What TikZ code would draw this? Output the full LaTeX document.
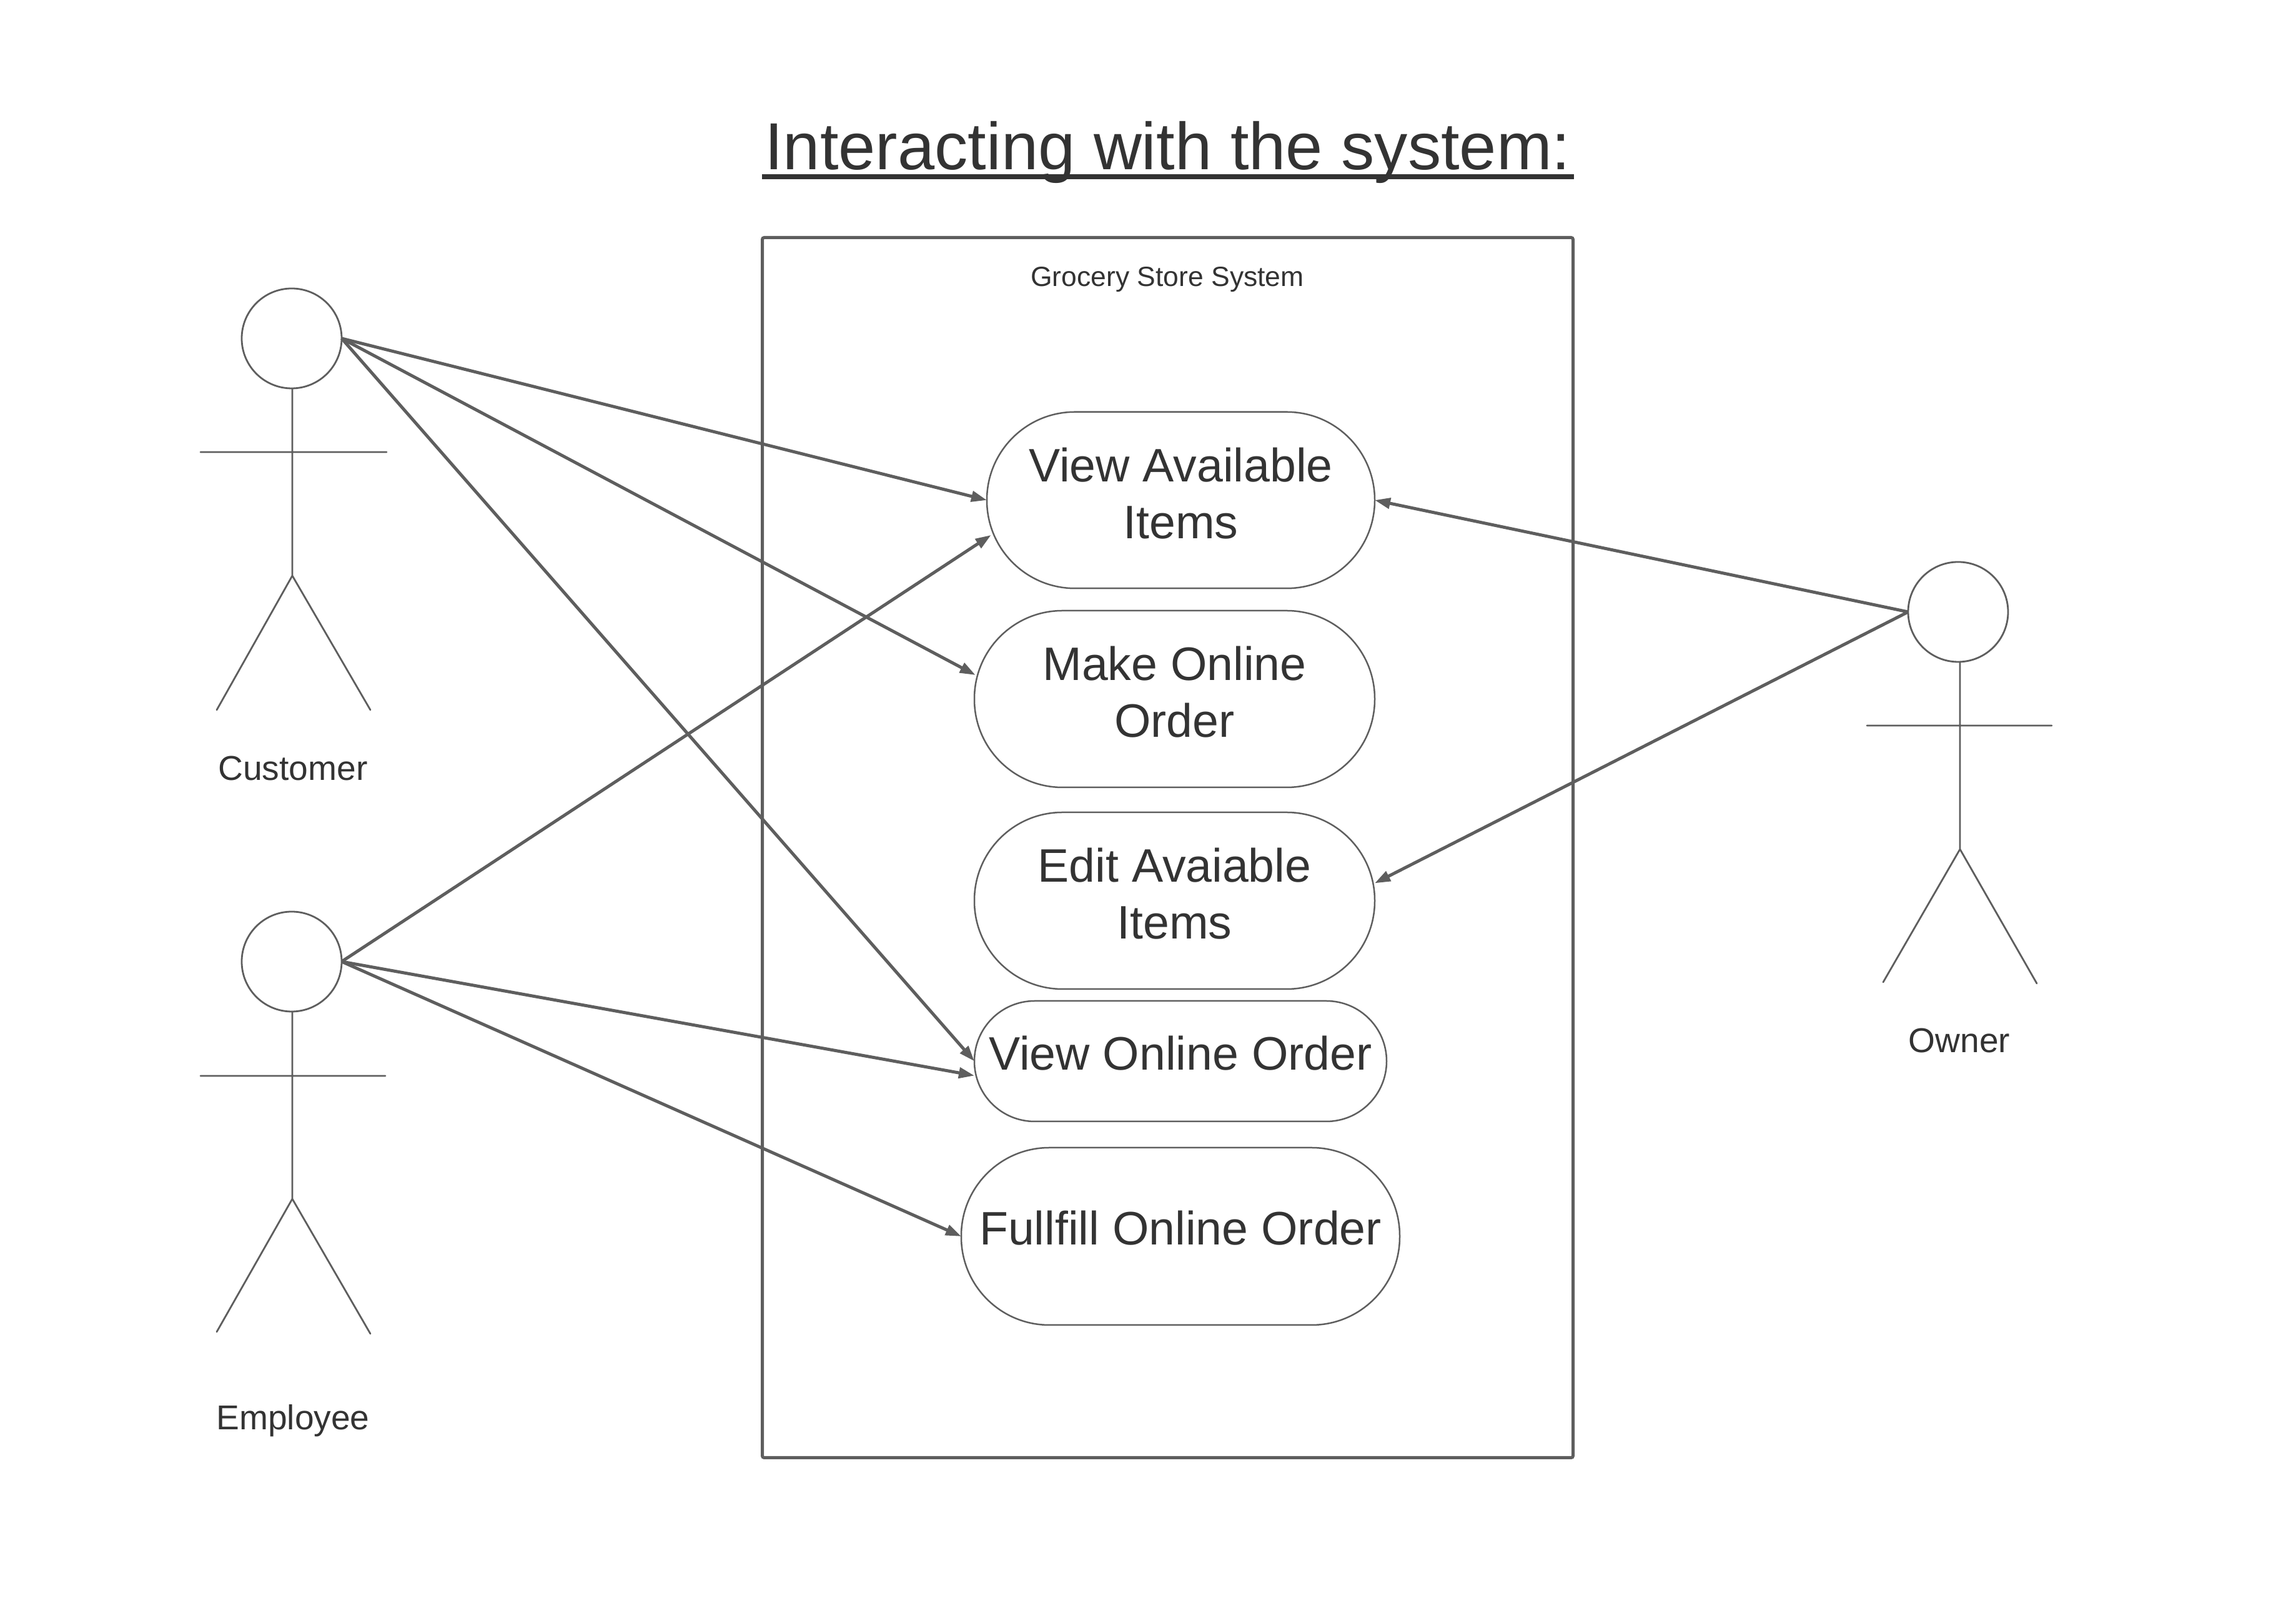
\documentclass[tikz,border=0pt]{standalone}
\usepackage{fontspec}
\setmainfont{Liberation Sans}
\usetikzlibrary{arrows.meta}
\definecolor{linegray}{RGB}{94,94,94}
\definecolor{textgray}{RGB}{51,51,51}
\tikzset{
    usecase/.style={draw=linegray, line width=0.025cm, rounded corners=1.41cm, minimum width=6.41cm, minimum height=2.83cm, align=center, inner sep=0pt, outer sep=0pt, text=textgray, font=\fontsize{21.4}{26}\selectfont},
    actorhead/.style={draw=linegray, line width=0.028cm, circle, minimum size=1.6cm, inner sep=0pt, outer sep=0pt},
    actorline/.style={draw=linegray, line width=0.028cm, line cap=round},
    actorname/.style={text=textgray, font=\fontsize{15.7}{19}\selectfont},
    link/.style={draw=linegray, line width=0.05cm, -{Triangle[length=0.25cm,width=0.17cm]}}
}

\begin{document}
\begin{tikzpicture}
        \useasboundingbox (0,0) rectangle (36.76,25.8);

        \node[text=textgray, anchor=base, font=\fontsize{30.3}{36}\selectfont] (title) at (18.695,23.08) {Interacting with the system:};
        \coordinate (ruleleft) at (12.2,22.97);
        \coordinate (ruleright) at (25.2,22.97);
        \draw[textgray, line width=0.08cm] (ruleleft) -- (ruleright);

        \node[draw=linegray, line width=0.05cm, rounded corners=0.03cm, minimum width=12.98cm, minimum height=19.54cm] (system) at (18.695,12.225) {};
        \node[text=textgray, anchor=base, font=\fontsize{12.65}{15}\selectfont] (systemname) at (18.69,21.21) {Grocery Store System};

        \node[usecase, minimum width=6.21cm, minimum height=2.825cm, text depth=0.23cm] (available) at (18.905,17.79) {View Available\\Items};
        \node[usecase, text depth=0.23cm] (makeorder) at (18.805,14.605) {Make Online\\Order};
        \node[usecase, text depth=0.23cm] (edititems) at (18.805,11.375) {Edit Avaiable\\Items};
        \node[usecase, minimum width=6.6cm, minimum height=1.93cm, rounded corners=0.965cm, text depth=0.26cm] (vieworder) at (18.9,8.805) {View Online Order};
        \node[usecase, minimum width=7.02cm, minimum height=2.84cm, text depth=0.28cm] (fulfill) at (18.9,6.0) {Fullfill Online Order};

        \node[actorhead] (customer) at (4.67,20.38) {};
        \coordinate (customerhip) at (4.68,16.58);
        \coordinate (customerarml) at (3.21,18.56);
        \coordinate (customerarmr) at (6.19,18.56);
        \coordinate (customerfootl) at (3.47,14.43);
        \coordinate (customerfootr) at (5.93,14.43);
        \draw[actorline] (customer.south) ++(0.01,0) -- (customerhip) -- (customerfootl) (customerhip) -- (customerfootr) (customerarml) -- (customerarmr);
        \node[actorname] (customername) at (4.69,13.49) {Customer};

        \node[actorhead] (employee) at (4.67,10.4) {};
        \coordinate (employeehip) at (4.68,6.6);
        \coordinate (employeearml) at (3.21,8.57);
        \coordinate (employeearmr) at (6.17,8.57);
        \coordinate (employeefootl) at (3.47,4.47);
        \coordinate (employeefootr) at (5.93,4.44);
        \draw[actorline] (employee.south) ++(0.01,0) -- (employeehip) -- (employeefootl) (employeehip) -- (employeefootr) (employeearml) -- (employeearmr);
        \node[actorname] (employeename) at (4.69,3.05) {Employee};

        \node[actorhead] (owner) at (31.35,16.0) {};
        \coordinate (ownerhip) at (31.38,12.2);
        \coordinate (ownerarml) at (29.89,14.18);
        \coordinate (ownerarmr) at (32.85,14.18);
        \coordinate (ownerfootl) at (30.15,10.07);
        \coordinate (ownerfootr) at (32.61,10.05);
        \draw[actorline] (owner.south) ++(0.03,0) -- (ownerhip) -- (ownerfootl) (ownerhip) -- (ownerfootr) (ownerarml) -- (ownerarmr);
        \node[actorname] (ownername) at (31.37,9.13) {Owner};

        \draw[link] (customer.east) -- (available.west);
        \draw[link, shorten >=-0.02cm] (customer.east) -- (makeorder.173.8);
        \draw[link] (customer.east) -- (vieworder.west);
        \draw[link, shorten >=-0.08cm] (employee.east) -- (available.191.8);
        \draw[link] (employee.east) -- (vieworder.184.5);
        \draw[link] (employee.east) -- (fulfill.west);
        \draw[link] (owner.west) -- (available.east);
        \draw[link] (owner.west) -- (edititems.5.1);
    \end{tikzpicture}
\end{document}
